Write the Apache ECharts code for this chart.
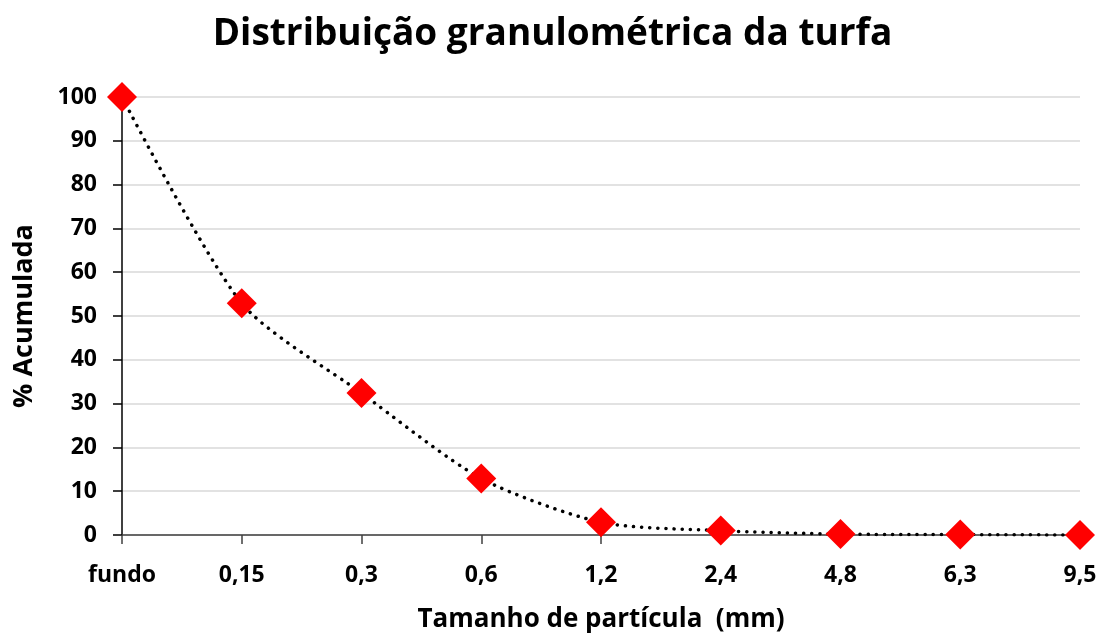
<!DOCTYPE html>
<html>
<head>
<meta charset="utf-8">
<script src="https://cdn.jsdelivr.net/npm/echarts@6/dist/echarts.min.js"></script>
<style>
  html, body { margin: 0; padding: 0; background: #fff; overflow: hidden; }
  #chart { width: 1105px; height: 638px; }
</style>
</head>
<body>
<div id="chart"></div>
<script>
// Sieve sizes (mm) and cumulative percentage retained
const sizes = ['fundo', '0,15', '0,3', '0,6', '1,2', '2,4', '4,8', '6,3', '9,5'];
const cumulative = [100, 52.9, 32.4, 12.9, 2.9, 1.0, 0.2, 0.1, 0];
const yTicks = { min: 0, max: 100, interval: 10 };

const FONT = '"Open Sans", "Noto Sans", sans-serif';

const chart = echarts.init(document.getElementById('chart'), null, { renderer: 'canvas', width: 1105, height: 638 });
chart.setOption({
  animation: false,
  backgroundColor: '#ffffff',
  title: {
    text: 'Distribuição granulométrica da turfa',
    left: 'center',
    top: 11,
    textStyle: { fontFamily: FONT, fontWeight: 'bold', fontSize: 37, color: '#000' }
  },
  grid: { left: 122, width: 958, top: 97, height: 439, containLabel: false },
  xAxis: {
    type: 'category',
    data: sizes,
    boundaryGap: false,
    name: 'Tamanho de partícula  (mm)',
    nameLocation: 'middle',
    nameGap: 72,
    nameTextStyle: { fontFamily: FONT, fontWeight: 'bold', fontSize: 26, color: '#000' },
    axisLine: { lineStyle: { color: '#404040', width: 1.5 } },
    axisTick: { show: true, length: 9, lineStyle: { color: '#404040', width: 1.5 } },
    axisLabel: { margin: 29, fontFamily: FONT, fontWeight: 'bold', fontSize: 23, color: '#000' },
    splitLine: { show: false }
  },
  yAxis: {
    type: 'value',
    min: yTicks.min,
    max: yTicks.max,
    interval: yTicks.interval,
    name: '% Acumulada',
    nameLocation: 'middle',
    nameGap: 84,
    nameTextStyle: { fontFamily: FONT, fontWeight: 'bold', fontSize: 27, color: '#000' },
    axisLine: { show: true, lineStyle: { color: '#000', width: 1.5 } },
    axisTick: { show: true, length: 9, lineStyle: { color: '#000', width: 1.5 } },
    axisLabel: { margin: 25, fontFamily: FONT, fontWeight: 'bold', fontSize: 23, color: '#000' },
    splitLine: { show: true, lineStyle: { color: '#d9d9d9', width: 1.5 } }
  },
  series: [{
    type: 'line',
    data: cumulative,
    smooth: 0.25,
    symbol: 'diamond',
    symbolSize: 30,
    itemStyle: { color: '#ff0000' },
    lineStyle: { color: '#000', width: 3.5, type: [0.1, 8], cap: 'round' },
    z: 3
  }]
});
</script>
</body>
</html>
